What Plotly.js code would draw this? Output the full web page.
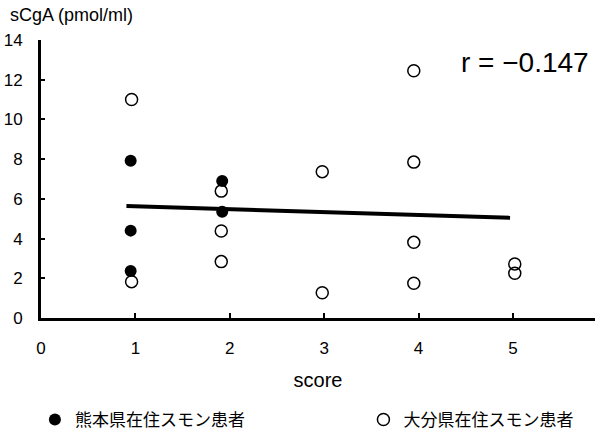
<!DOCTYPE html>
<html>
<head>
<meta charset="utf-8">
<script src="https://cdn.plot.ly/plotly-3.0.1.min.js"></script>
<style>html,body{margin:0;padding:0;background:#fff;}#chart{width:595px;height:431px;}</style>
</head>
<body>
<div id="chart"></div>
<script>
// Kumamoto residents (filled)
const kumamotoScore = [0.95, 0.95, 0.95, 1.92, 1.92];
const kumamotoCgA   = [7.92, 4.40, 2.37, 6.90, 5.35];
// Oita residents (open)
const oitaScore = [0.96, 0.96, 1.91, 1.91, 1.91, 2.98, 2.98, 3.95, 3.95, 3.95, 3.95, 5.02, 5.02];
const oitaCgA   = [11.0, 1.83, 6.39, 4.38, 2.84, 7.37, 1.27, 12.45, 7.85, 3.81, 1.75, 2.72, 2.25];
// regression line endpoints
const fitScore = [0.905, 4.97];
const fitCgA   = [5.64, 5.05];
const xTicks = [0, 1, 2, 3, 4, 5];
const yTicks = [0, 2, 4, 6, 8, 10, 12, 14];
const seriesNames = ['熊本県在住スモン患者', '大分県在住スモン患者'];
const rText = 'r = −0.147';

const font = 'Liberation Sans, Arial, sans-serif';
const cjk = 'Noto Sans CJK JP, sans-serif';

const traces = [
  {x: fitScore, y: fitCgA, type: 'scatter', mode: 'lines', showlegend: false,
   line: {color: '#000', width: 4}, hoverinfo: 'skip'},
  {x: kumamotoScore, y: kumamotoCgA, type: 'scatter', mode: 'markers', name: seriesNames[0],
   legend: 'legend',
   marker: {symbol: 'circle', size: 12, color: '#000', line: {width: 0}}},
  {x: oitaScore, y: oitaCgA, type: 'scatter', mode: 'markers', name: seriesNames[1],
   legend: 'legend2',
   marker: {symbol: 'circle-open', size: 12, color: '#000', line: {width: 1.5, color: '#000'}}}
];

const legendBase = {
  orientation: 'h', xanchor: 'left', yanchor: 'middle', y: -0.367,
  font: {family: cjk, size: 17, color: '#000'},
  itemwidth: 30, bgcolor: 'rgba(0,0,0,0)', borderwidth: 0
};

const layout = {
  width: 595, height: 431,
  margin: {l: 41, r: 0, t: 40, b: 113, autoexpand: false},
  paper_bgcolor: '#fff', plot_bgcolor: '#fff',
  font: {family: font, color: '#000', size: 16},
  xaxis: {
    range: [0, 5.87], tickvals: xTicks, ticktext: xTicks.map(String),
    showline: true, linewidth: 3, linecolor: '#000', mirror: false,
    ticks: 'inside', ticklen: 5, tickwidth: 2, tickcolor: '#000',
    showgrid: false, zeroline: false, ticklabelstandoff: 13,
    tickfont: {family: font, size: 17, color: '#000'},
    title: {text: 'score', font: {family: font, size: 20, color: '#000'}, standoff: 16}
  },
  yaxis: {
    range: [0, 14], tickvals: yTicks, ticktext: yTicks.map(String),
    showline: true, linewidth: 3, linecolor: '#000',
    ticks: 'inside', ticklen: 4, tickwidth: 2, tickcolor: '#000',
    showgrid: false, zeroline: false, ticklabelstandoff: 12,
    tickfont: {family: font, size: 17, color: '#000'}
  },
  showlegend: true,
  legend: Object.assign({}, legendBase, {x: -0.011}),
  legend2: Object.assign({}, legendBase, {x: 0.582}),
  annotations: [
    {text: 'sCgA (pmol/ml)', xref: 'paper', yref: 'paper', x: -0.06, y: 1.09,
     xanchor: 'left', yanchor: 'middle', showarrow: false,
     font: {family: font, size: 18, color: '#000'}},
    {text: rText, xref: 'paper', yref: 'paper', x: 0.992, y: 0.92,
     xanchor: 'right', yanchor: 'middle', showarrow: false,
     font: {family: font, size: 28, color: '#000'}}
  ]
};

Plotly.newPlot('chart', traces, layout, {displayModeBar: false, staticPlot: true});
</script>
</body>
</html>
